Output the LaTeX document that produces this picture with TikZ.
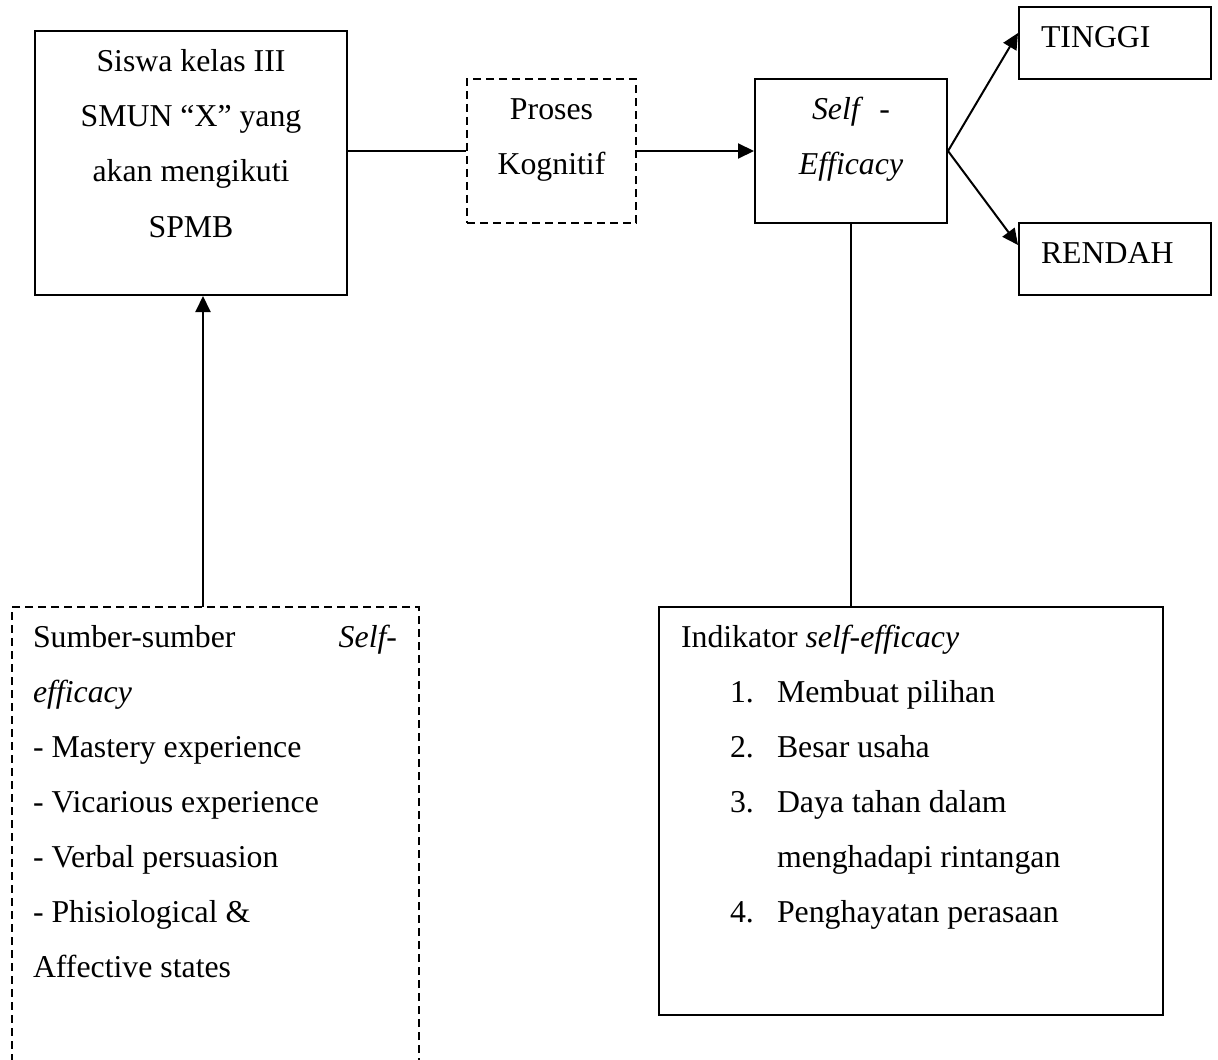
\documentclass[tikz,border=0pt]{standalone}
\usepackage{fontspec}
\setmainfont{Liberation Serif}
\usetikzlibrary{arrows.meta}

\begin{document}
\begin{tikzpicture}[x=0.5pt, y=-0.5pt, line width=1pt, font=\fontsize{15.9}{19}\selectfont,
  >={Triangle[length=8pt, width=7.5pt]},
  box/.style={draw, rectangle, inner sep=0pt},
  dbox/.style={box, dash pattern=on 4pt off 2.5pt},
  txt/.style={anchor=base, inner sep=0pt},
  ltxt/.style={anchor=base west, inner sep=0pt}]
  \useasboundingbox (0,0) rectangle (1218,1059);
  \clip (0,0) rectangle (1218,1059);
  % boxes
  \node[box, minimum width=156pt, minimum height=132pt] (siswa) at (191,163) {};
  \node[dbox, minimum width=84.5pt, minimum height=72pt] (proses) at (551.5,151) {};
  \node[box, minimum width=96pt, minimum height=72pt] (se) at (851,151) {};
  \node[box, minimum width=96pt, minimum height=36pt] (tinggi) at (1115,43) {};
  \node[box, minimum width=96pt, minimum height=36pt] (rendah) at (1115,259) {};
  \node[dbox, minimum width=203.5pt, minimum height=234pt] (sumber) at (215.5,841) {};
  \node[box, minimum width=252pt, minimum height=204pt] (indik) at (911,811) {};
  % texts
  \foreach \t [count=\i] in {Siswa kelas III, SMUN ``X'' yang, akan mengikuti, SPMB}
    \node[txt] (siswa\i) at (191,17+55*\i) {\t};
  \node[txt] (proses1) at (551.5,120) {Proses};
  \node[txt] (proses2) at (551.5,175) {Kognitif};
  \node[txt] (se1) at (851,120) {\textit{Self}\ \ -};
  \node[txt] (se2) at (851,175) {\textit{Efficacy}};
  \node[ltxt] (tinggi1) at (1040,48) {TINGGI};
  \node[ltxt] (rendah1) at (1040,263) {RENDAH};
  \node[ltxt] (sumber0) at (32,647) {Sumber-sumber};
  \node[anchor=base east, inner sep=0pt] (sumber00) at (398,647) {\textit{Self-}};
  \foreach \t [count=\i] in {\textit{efficacy}, - Mastery experience, - Vicarious experience,
      - Verbal persuasion, - Phisiological \&, Affective states}
    \node[ltxt] (sumber\i) at (32,647+55*\i) {\t};
  \node[ltxt] (indik0) at (680,647) {Indikator \textit{self-efficacy}};
  \foreach \n/\t/\y in {1./Membuat pilihan/702, 2./Besar usaha/757, 3./Daya tahan dalam/812,
      /menghadapi rintangan/867, 4./Penghayatan perasaan/922} {
    \node[ltxt] (num\y) at (729,\y) {\n};
    \node[ltxt] (item\y) at (776,\y) {\t};
  }
  % connectors
  \draw (siswa.east |- proses.west) -- (proses.west);
  \draw[->] (proses.east) -- (se.west);
  \draw[->] (se.east) -- ([yshift=5pt]tinggi.west);
  \draw[->] (se.east) -- ([yshift=7pt]rendah.west);
  \draw (se.south) -- (se.south |- indik.north);
  \coordinate (src) at (203,607);
  \draw[->] (src) -- (src |- siswa.south);
\end{tikzpicture}
\end{document}
